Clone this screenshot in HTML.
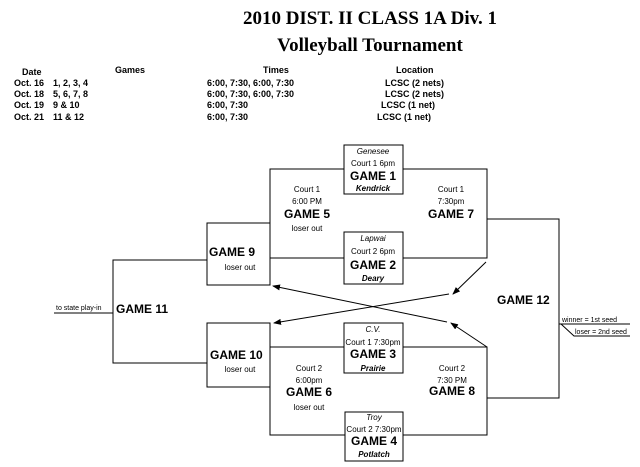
<!DOCTYPE html>
<html><head><meta charset="utf-8"><style>
html,body{margin:0;padding:0;background:#fff;}
svg{display:block;}
.t{font-family:"Liberation Serif",serif;font-weight:bold;font-size:19px;}
.h{font-family:"Liberation Sans",sans-serif;font-weight:bold;font-size:9px;}
.s{font-family:"Liberation Sans",sans-serif;font-size:8px;}
.i{font-family:"Liberation Sans",sans-serif;font-size:8px;font-style:italic;}
.ib{font-family:"Liberation Sans",sans-serif;font-size:8px;font-style:italic;font-weight:bold;}
.g{font-family:"Liberation Sans",sans-serif;font-size:12px;font-weight:bold;}
</style></head><body>
<svg width="640" height="467" viewBox="0 0 640 467" xmlns="http://www.w3.org/2000/svg">
<defs><marker id="a" markerWidth="8" markerHeight="6" refX="7" refY="3" orient="auto" markerUnits="userSpaceOnUse"><path d="M0,0 L8,3 L0,6 z" fill="#000"/></marker></defs>
<text class="t" x="370" y="24" text-anchor="middle">2010 DIST. II CLASS 1A Div. 1</text>
<text class="t" x="370" y="51" text-anchor="middle">Volleyball Tournament</text>
<g class="h">
<text x="22" y="75">Date</text><text x="115" y="73">Games</text><text x="263" y="73">Times</text><text x="396" y="73">Location</text>
<text x="14" y="86">Oct. 16</text><text x="53" y="86">1, 2, 3, 4</text><text x="207" y="86">6:00, 7:30, 6:00, 7:30</text><text x="385" y="86">LCSC (2 nets)</text>
<text x="14" y="97">Oct. 18</text><text x="53" y="97">5, 6, 7, 8</text><text x="207" y="97">6:00, 7:30, 6:00, 7:30</text><text x="385" y="97">LCSC (2 nets)</text>
<text x="14" y="108">Oct. 19</text><text x="53" y="108">9 &amp; 10</text><text x="207" y="108">6:00, 7:30</text><text x="381" y="108">LCSC (1 net)</text>
<text x="14" y="120">Oct. 21</text><text x="53" y="120">11 &amp; 12</text><text x="207" y="120">6:00, 7:30</text><text x="377" y="120">LCSC (1 net)</text>
</g>
<g fill="none" stroke="#000" stroke-width="1">
<rect x="207" y="223" width="63" height="62" fill="#fff"/>
<rect x="270" y="169" width="217" height="89" fill="#fff"/>
<rect x="344" y="145" width="59" height="49" fill="#fff"/>
<rect x="344" y="232" width="59" height="52" fill="#fff"/>
<rect x="207" y="323" width="63" height="64" fill="#fff"/>
<rect x="270" y="347" width="217" height="88" fill="#fff"/>
<rect x="344" y="323" width="59" height="50" fill="#fff"/>
<rect x="345" y="412" width="58" height="49" fill="#fff"/>
<polyline points="207,260 113,260 113,363 207,363"/>
<line x1="54" y1="313" x2="113" y2="313"/>
<polyline points="487,219 559,219 559,398 487,398"/>
<line x1="559" y1="324" x2="630" y2="324"/>
<polyline points="561,324 574,336 630,336"/>
<line x1="486" y1="262" x2="453" y2="294" marker-end="url(#a)"/>
<line x1="449" y1="294" x2="274" y2="323" marker-end="url(#a)"/>
<line x1="487" y1="347" x2="451" y2="323" marker-end="url(#a)"/>
<line x1="447" y1="322" x2="273" y2="286" marker-end="url(#a)"/>
</g>
<g text-anchor="middle">
<text class="i" x="373" y="154">Genesee</text><text class="s" x="373" y="166">Court 1 6pm</text><text class="g" x="373" y="180">GAME 1</text><text class="ib" x="373" y="191">Kendrick</text>
<text class="s" x="307" y="192">Court 1</text><text class="s" x="307" y="204">6:00 PM</text><text class="g" x="307" y="218">GAME 5</text><text class="s" x="307" y="231">loser out</text>
<text class="s" x="451" y="192">Court 1</text><text class="s" x="451" y="204">7:30pm</text><text class="g" x="451" y="218">GAME 7</text>
<text class="i" x="373" y="241">Lapwai</text><text class="s" x="373" y="254">Court 2 6pm</text><text class="g" x="373" y="269">GAME 2</text><text class="ib" x="373" y="281">Deary</text>
<text class="s" x="240" y="270">loser out</text>
<text class="i" x="373" y="332">C.V.</text><text class="s" x="373" y="345">Court 1 7:30pm</text><text class="g" x="373" y="358">GAME 3</text><text class="ib" x="373" y="371">Prairie</text>
<text class="s" x="309" y="371">Court 2</text><text class="s" x="309" y="383">6:00pm</text><text class="g" x="309" y="396">GAME 6</text><text class="s" x="309" y="410">loser out</text>
<text class="s" x="452" y="371">Court 2</text><text class="s" x="452" y="383">7:30 PM</text><text class="g" x="452" y="395">GAME 8</text>
<text class="s" x="240" y="372">loser out</text>
<text class="i" x="374" y="420">Troy</text><text class="s" x="374" y="432">Court 2 7:30pm</text><text class="g" x="374" y="445">GAME 4</text><text class="ib" x="374" y="457">Potlatch</text>
</g>
<text class="g" x="209" y="256">GAME 9</text>
<text class="g" x="210" y="359">GAME 10</text>
<text class="g" x="116" y="313">GAME 11</text>
<text class="g" x="497" y="304">GAME 12</text>
<text class="s" x="56" y="310" style="font-size:7px">to state play-in</text>
<text class="s" x="562" y="322" style="font-size:7px">winner = 1st seed</text>
<text class="s" x="575" y="334" style="font-size:7px">loser = 2nd seed</text>
</svg>
</body></html>
